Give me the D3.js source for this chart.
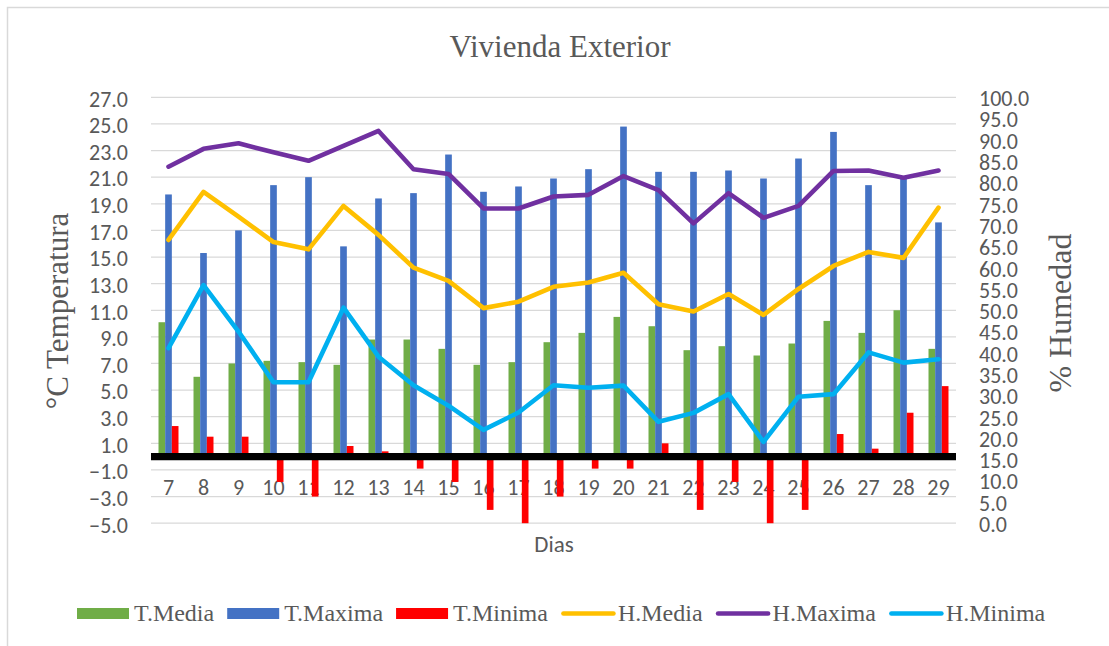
<!DOCTYPE html>
<meta charset="utf-8">
<head>
	<style>
		body { margin: 0; background: #fff; }
		.tick text { fill: #595959; font-family: Calibri, Carlito, Lato, sans-serif; font-size: 22px; }
		.serif { font-family: "Times New Roman", "Liberation Serif", serif; fill: #595959; }
	</style>
	<script src="https://cdn.jsdelivr.net/npm/d3@7"></script>
</head>
<body>
<script>

	// dias y valores
	var days = [7, 8, 9, 10, 11, 12, 13, 14, 15, 16, 17, 18, 19, 20, 21, 22, 23, 24, 25, 26, 27, 28, 29];
	var tMedia = [10.1, 6.0, 7.0, 7.2, 7.1, 6.9, 8.8, 8.8, 8.1, 6.9, 7.1, 8.6, 9.3, 10.5, 9.8, 8.0, 8.3, 7.6, 8.5, 10.2, 9.3, 11.0, 8.1];
	var tMaxima = [19.7, 15.3, 17.0, 20.4, 21.0, 15.8, 19.4, 19.8, 22.7, 19.9, 20.3, 20.9, 21.6, 24.8, 21.4, 21.4, 21.5, 20.9, 22.4, 24.4, 20.4, 20.9, 17.6];
	var tMinima = [2.3, 1.5, 1.5, -1.9, -3.0, 0.8, 0.4, -0.9, -1.9, -4.0, -5.0, -3.0, -0.9, -0.9, 1.0, -4.0, -1.9, -5.0, -4.0, 1.7, 0.6, 3.3, 5.3];
	var hMedia = [66.5, 77.8, 72.0, 66.0, 64.3, 74.5, 67.7, 60.0, 56.9, 50.5, 52.0, 55.5, 56.5, 58.8, 51.4, 49.7, 53.8, 48.9, 55.0, 60.4, 63.7, 62.3, 74.1];
	var hMaxima = [83.7, 87.9, 89.2, 87.1, 85.1, 88.6, 92.1, 83.1, 82.0, 73.9, 73.9, 76.7, 77.1, 81.5, 78.2, 70.4, 77.5, 71.7, 74.5, 82.7, 82.8, 81.1, 82.8];
	var hMinima = [41.1, 55.9, 45.0, 33.1, 33.1, 50.6, 39.1, 32.4, 27.6, 21.9, 26.0, 32.4, 31.8, 32.3, 23.8, 25.9, 30.3, 19.1, 29.7, 30.3, 40.1, 37.7, 38.5];

	var tempTicks = d3.range(-5, 28, 2);
	var humTicks = d3.range(0, 101, 5);

	var barSeries = [
		{name: "T.Media", values: tMedia, color: "#70AD47"},
		{name: "T.Maxima", values: tMaxima, color: "#4472C4"},
		{name: "T.Minima", values: tMinima, color: "#FF0000"}
	];
	var lineSeries = [
		{name: "H.Media", values: hMedia, color: "#FFC000"},
		{name: "H.Maxima", values: hMaxima, color: "#7030A0"},
		{name: "H.Minima", values: hMinima, color: "#00B0F0"}
	];

	var width = 1109, height = 646;
	var plotLeft = 151, plotRight = 956, plotTop = 97.3, plotBottom = 523.2;

	var svg = d3.select("body").append("svg")
		.attr("width", width)
		.attr("height", height);

	// marco del grafico
	svg.append("rect")
		.attr("x", 7.5).attr("y", 7.5)
		.attr("width", 1200).attr("height", 700)
		.attr("fill", "none")
		.attr("stroke", "#d9d9d9")
		.attr("stroke-width", 1.5);

	var x = d3.scaleBand().domain(days).range([plotLeft, plotRight]);
	var bw = x.bandwidth();
	var xInner = d3.scaleBand().domain(barSeries.map(function(d) { return d.name }))
		.range([bw * 0.2145, bw * 0.7855]);
	var yT = d3.scaleLinear().domain([-5, 27]).range([plotBottom, plotTop]);
	var yH = d3.scaleLinear().domain([0, 100]).range([plotBottom, plotTop]);

	// lineas de cuadricula
	svg.append("g").selectAll("line")
		.data(tempTicks)
	  .enter().append("line")
		.attr("x1", plotLeft).attr("x2", plotRight)
		.attr("y1", function(d) { return yT(d) })
		.attr("y2", function(d) { return yT(d) })
		.attr("stroke", "#d9d9d9")
		.attr("stroke-width", 1.25);

	// ejes
	var axL = svg.append("g")
		.attr("transform", "translate(" + plotLeft + ",0)")
		.call(d3.axisLeft(yT).tickValues(tempTicks).tickFormat(d3.format(".1f")).tickSize(0).tickPadding(23));
	axL.select(".domain").remove();
	axL.selectAll(".tick text").attr("dy", "0.4em");

	var axR = svg.append("g")
		.attr("transform", "translate(" + plotRight + ",0)")
		.call(d3.axisRight(yH).tickValues(humTicks).tickFormat(d3.format(".1f")).tickSize(0).tickPadding(23));
	axR.select(".domain").remove();
	axR.selectAll(".tick text").attr("dy", "0.38em");

	var axB = svg.append("g")
		.attr("transform", "translate(0," + yT(0) + ")")
		.call(d3.axisBottom(x).tickSize(0).tickPadding(23));
	axB.select(".domain").remove();

	// barras
	barSeries.forEach(function(s) {
		svg.append("g").selectAll("rect")
			.data(s.values)
		  .enter().append("rect")
			.attr("x", function(d, i) { return x(days[i]) + xInner(s.name) })
			.attr("width", xInner.bandwidth())
			.attr("y", function(d) { return Math.min(yT(d), yT(0)) })
			.attr("height", function(d) { return Math.abs(yT(d) - yT(0)) })
			.attr("fill", s.color);
	});

	// linea del cero
	svg.append("line")
		.attr("x1", plotLeft).attr("x2", plotRight)
		.attr("y1", yT(0)).attr("y2", yT(0))
		.attr("stroke", "#000")
		.attr("stroke-width", 7.3);

	// lineas de humedad
	var line = d3.line()
		.x(function(d, i) { return x(days[i]) + bw / 2 })
		.y(function(d) { return yH(d) });

	lineSeries.forEach(function(s) {
		svg.append("path")
			.datum(s.values)
			.attr("d", line)
			.attr("fill", "none")
			.attr("stroke", s.color)
			.attr("stroke-width", 4.6)
			.attr("stroke-linejoin", "round")
			.attr("stroke-linecap", "round");
	});

	// titulos
	svg.append("text").attr("class", "serif")
		.attr("x", 560).attr("y", 56.5)
		.attr("text-anchor", "middle")
		.style("font-size", "31px")
		.text("Vivienda Exterior");

	svg.append("text").attr("class", "serif")
		.attr("transform", "translate(68,311)rotate(-90)")
		.attr("text-anchor", "middle")
		.style("font-size", "31px")
		.text("°C Temperatura");

	svg.append("text").attr("class", "serif")
		.attr("transform", "translate(1071,313)rotate(-90)")
		.attr("text-anchor", "middle")
		.style("font-size", "32px")
		.text("% Humedad");

	svg.append("text")
		.attr("x", 554).attr("y", 552)
		.attr("text-anchor", "middle")
		.style("font-family", "Calibri, Carlito, Lato, sans-serif")
		.style("font-size", "23px")
		.style("fill", "#595959")
		.text("Dias");

	// leyenda
	var legend = svg.append("g");
	var cx = 77, ly = 613.5;
	barSeries.concat(lineSeries).forEach(function(s, k) {
		if (k < 3) {
			legend.append("rect")
				.attr("x", cx).attr("y", ly - 5.5)
				.attr("width", 52).attr("height", 11)
				.attr("fill", s.color);
		} else {
			legend.append("line")
				.attr("x1", cx + 2.5).attr("x2", cx + 52.5)
				.attr("y1", ly).attr("y2", ly)
				.attr("stroke", s.color)
				.attr("stroke-width", 4.6)
				.attr("stroke-linecap", "round");
		}
		var t = legend.append("text").attr("class", "serif")
			.attr("x", cx + 57).attr("y", ly + 7)
			.style("font-size", "24px")
			.text(s.name);
		cx = cx + 57 + t.node().getComputedTextLength() + 13;
	});

</script>
</body>
